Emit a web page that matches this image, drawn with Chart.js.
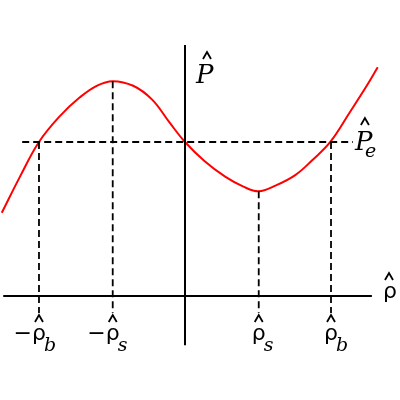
<!DOCTYPE html>
<html>
<head>
<meta charset="utf-8">
<script src="https://cdn.jsdelivr.net/npm/chart.js@4"></script>
<style>
  html, body { margin: 0; padding: 0; background: #fff; }
  #wrap { width: 400px; height: 400px; }
</style>
</head>
<body>
<div id="wrap"><canvas id="chart"></canvas></div>
<script>
// curve P(rho) (rho_s ~ 1, rho_b ~ 2, P_e = 2)
const rhoCurve = [-2.51, -2.26, -2.0, -1.71, -1.44, -1.21, -0.99, -0.71, -0.45, -0.21, 0,
                  0.27, 0.55, 0.80, 1.01, 1.23, 1.51, 1.75, 1.99, 2.26, 2.47, 2.64];
const pCurve   = [1.08, 1.55, 2.0, 2.34, 2.58, 2.73, 2.79, 2.73, 2.55, 2.25, 2.0,
                  1.75, 1.55, 1.42, 1.36, 1.43, 1.57, 1.77, 2.0, 2.39, 2.70, 2.97];

// marked points on the rho axis and the curve value above each
const rhoMarks = [-2.0, -0.99, 1.01, 2.0];
const pMarks = [2.0, 2.79, 1.36, 2.0];
const markPrefix = ["\u2212", "\u2212", "", ""];
const markSub = ["b", "s", "s", "b"];
const pE = 2.0;

const axisX = [-2.49, 2.56];
const axisY = [-0.64, 3.26];
const peLine = [-2.23, 2.30];
const dropTo = -0.22;

const ctx = document.getElementById("chart").getContext("2d");

const line = (pts, opts) => Object.assign({
  data: pts, pointRadius: 0, borderColor: "#000",
  borderWidth: 1.8, fill: false, tension: 0
}, opts);

const datasets = [
  line([{ x: axisX[0], y: 0 }, { x: axisX[1], y: 0 }], { borderWidth: 2 }),
  line([{ x: 0, y: axisY[0] }, { x: 0, y: axisY[1] }], { borderWidth: 2 }),
  line([{ x: peLine[0], y: pE }, { x: peLine[1], y: pE }], { borderDash: [7, 4] }),
];
rhoMarks.forEach((r, i) => {
  datasets.push(line([{ x: r, y: pMarks[i] }, { x: r, y: dropTo }], { borderDash: [7, 4] }));
});
datasets.push(line(rhoCurve.map((r, i) => ({ x: r, y: pCurve[i] })), {
  borderColor: "#ff0000", borderWidth: 2, tension: 0.4
}));

function hat(c, cx, top) {
  c.beginPath();
  c.moveTo(cx - 4, top + 7);
  c.lineTo(cx, top);
  c.lineTo(cx + 4, top + 7);
  c.lineWidth = 1.8;
  c.strokeStyle = "#000";
  c.stroke();
}

const labels = {
  id: "labels",
  afterDraw(chart) {
    const c = chart.ctx;
    const sx = chart.scales.x, sy = chart.scales.y;
    const x0 = sx.getPixelForValue(0), y0 = sy.getPixelForValue(0);
    c.save();
    c.fillStyle = "#000";
    c.textBaseline = "alphabetic";

    // rho tick labels under the axis
    rhoMarks.forEach((r, i) => {
      const cx = sx.getPixelForValue(r);
      const base = y0 + 44;
      c.font = "22px 'DejaVu Sans'";
      const w = c.measureText("\u03c1").width;
      c.textAlign = "left";
      c.fillText("\u03c1", cx - w / 2, base);
      c.textAlign = "right";
      c.fillText(markPrefix[i], cx - w / 2, base);
      c.textAlign = "left";
      c.font = "italic 19px 'DejaVu Serif'";
      c.fillText(markSub[i], cx + w / 2 - 2, base + 11);
      hat(c, cx, base - 25);
    });

    // axis titles
    c.textAlign = "center";
    c.font = "22px 'DejaVu Sans'";
    c.fillText("\u03c1", sx.right - 10, y0 + 2);
    hat(c, sx.right - 11, y0 - 23);

    c.textAlign = "left";
    c.font = "italic 26px 'DejaVu Serif'";
    c.fillText("P", x0 + 11, sy.getPixelForValue(axisY[1]) + 38);
    hat(c, x0 + 22, sy.getPixelForValue(axisY[1]) + 7);

    const pey = sy.getPixelForValue(pE);
    c.fillText("P", sx.getPixelForValue(peLine[1]) + 2, pey + 8);
    hat(c, sx.getPixelForValue(peLine[1]) + 12, pey - 24);
    c.font = "italic 19px 'DejaVu Serif'";
    c.fillText("e", sx.getPixelForValue(peLine[1]) + 12, pey + 15);
    c.restore();
  }
};

new Chart(ctx, {
  type: "line",
  data: { datasets: datasets },
  options: {
    responsive: true,
    maintainAspectRatio: false,
    animation: false,
    layout: { padding: 0 },
    plugins: { legend: { display: false }, tooltip: { enabled: false } },
    scales: {
      x: { type: "linear", display: false, min: -2.534, max: 2.945 },
      y: { type: "linear", display: false, min: -1.351, max: 3.844 }
    }
  },
  plugins: [labels]
});
</script>
</body>
</html>
